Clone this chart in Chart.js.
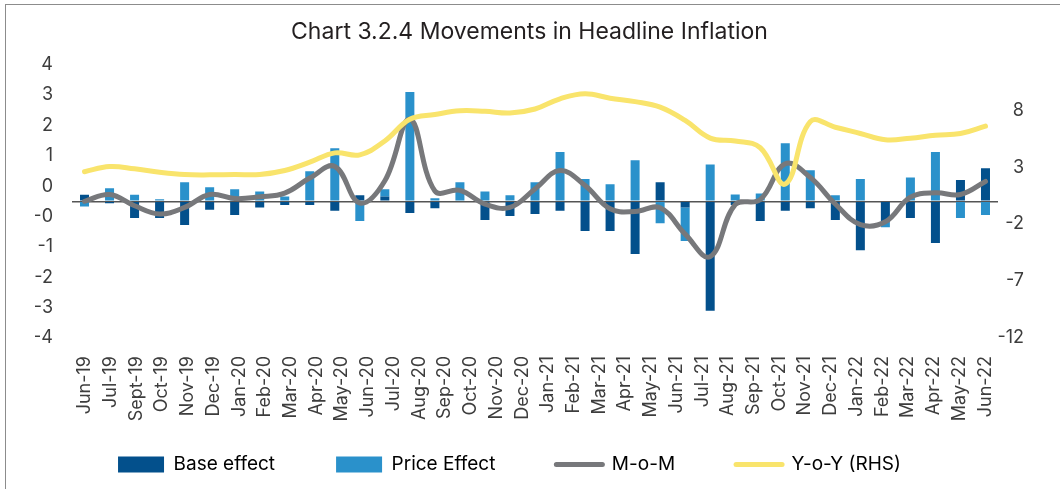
<!DOCTYPE html>
<html>
<head>
<meta charset="utf-8">
<title>Chart 3.2.4 Movements in Headline Inflation</title>
<script src="https://cdn.jsdelivr.net/npm/chart.js@4.4.1/dist/chart.umd.min.js"></script>
<style>
  html, body { margin: 0; padding: 0; background: #fff; }
  #wrap { position: relative; width: 1060px; height: 489px; overflow: hidden; }
  #frame { position: absolute; left: 5px; top: 4px; width: 1200px; height: 700px;
           border-left: 1.5px solid #8c8c8c; border-top: 1.5px solid #8c8c8c; }
  canvas { position: absolute; left: 0; top: 0; }
</style>
</head>
<body>
<div id="wrap">
  <div id="frame"></div>
  <canvas id="inflationChart" width="1060" height="489"></canvas>
</div>
<script>
// monthly data points (37) - the axis below only carries 36 labels
const months = ['Jun-19', 'Jul-19', 'Aug-19', 'Sep-19', 'Oct-19', 'Nov-19', 'Dec-19',
  'Jan-20', 'Feb-20', 'Mar-20', 'Apr-20', 'May-20', 'Jun-20', 'Jul-20', 'Aug-20', 'Sep-20',
  'Oct-20', 'Nov-20', 'Dec-20', 'Jan-21', 'Feb-21', 'Mar-21', 'Apr-21', 'May-21', 'Jun-21',
  'Jul-21', 'Aug-21', 'Sep-21', 'Oct-21', 'Nov-21', 'Dec-21', 'Jan-22', 'Feb-22', 'Mar-22',
  'Apr-22', 'May-22', 'Jun-22'];

// labels printed under the chart
const tickLabels = ['Jun-19', 'Jul-19', 'Sept-19', 'Oct-19', 'Nov-19', 'Dec-19', 'Jan-20',
  'Feb-20', 'Mar-20', 'Apr-20', 'May-20', 'Jun-20', 'Jul-20', 'Aug-20', 'Sep-20', 'Oct-20',
  'Nov-20', 'Dec-20', 'Jan-21', 'Feb-21', 'Mar-21', 'Apr-21', 'May-21', 'Jun-21', 'Jul-21',
  'Aug-21', 'Sep-21', 'Oct-21', 'Nov-21', 'Dec-21', 'Jan-22', 'Feb-22', 'Mar-22', 'Apr-22',
  'May-22', 'Jun-22'];

const baseEffect = [0.19, -0.06, -0.49, -0.49, -0.69, -0.25, -0.40, -0.18, -0.11, -0.11,
  -0.28, 0.18, 0.14, -0.34, -0.20, -0.02, -0.55, -0.43, -0.37, -0.28, -0.87, -0.87, -1.54,
  0.56, -0.18, -3.20, -0.11, -0.58, -0.28, -0.20, -0.55, -1.43, -0.62, -0.49, -1.22, 0.62, 0.97];

const priceEffect = [-0.15, 0.38, 0.19, 0.06, 0.56, 0.41, 0.35, 0.29, 0.14, 0.88,
  1.55, -0.58, 0.21, 3.20, 0.09, 0.56, 0.29, 0.18, 0.56, 1.44, 0.65, 0.50, 1.20,
  -0.64, -0.98, 1.08, 0.20, 0.23, 1.70, 0.91, 0.18, 0.65, -0.14, 0.70, 1.44, -0.49, -0.40];

const momChange = [0.00, 0.20, -0.13, -0.37, -0.18, 0.20, 0.08, 0.13, 0.24, 0.68,
  1.02, -0.05, 0.60, 2.40, 0.30, 0.32, -0.08, -0.18, 0.36, 0.90, 0.46, -0.22, -0.30,
  -0.19, -0.96, -1.62, -0.10, 0.05, 1.10, 0.70, -0.08, -0.68, -0.60, 0.12, 0.25, 0.20, 0.58];

const yoyInflation = [2.60, 3.05, 2.85, 2.55, 2.35, 2.32, 2.35, 2.35, 2.70, 3.43,
  4.25, 4.08, 5.30, 7.20, 7.62, 7.95, 7.90, 7.75, 8.10, 9.00, 9.44, 9.05, 8.75,
  8.27, 7.10, 5.55, 5.30, 4.70, 1.52, 7.00, 6.50, 5.95, 5.40, 5.54, 5.80, 5.95, 6.60];

// left axis ticks (shown rounded to whole numbers), right axis ticks
const leftTicks = [-4, -3.111, -2.222, -1.333, -0.444, 0.444, 1.333, 2.222, 3.111, 4];
const rightTicks = [-12, -7, -2, 3, 8];

const NAVY = '#03508C';
const LIGHT_BLUE = '#2A91CB';
const GREY = '#77787B';
const YELLOW = '#F9E46C';

Chart.defaults.font.family = 'Inter, "Noto Sans", sans-serif';
Chart.defaults.color = '#3d3d3d';

// nudge the legend row a little left of the centre, like the original
const legendShift = {
    id: 'legendShift',
    afterLayout(chart) {
        chart.legend.left -= 20;
        chart.legend.right -= 20;
    }
};

const ctx = document.getElementById('inflationChart').getContext('2d');
const inflationChart = new Chart(ctx, {
    data: {
        labels: months,
        datasets: [
            {
                type: 'bar', label: 'Base effect', data: baseEffect,
                backgroundColor: NAVY, stack: 'effects', order: 2,
                xAxisID: 'x', yAxisID: 'y', barPercentage: 0.36, categoryPercentage: 1
            },
            {
                type: 'bar', label: 'Price Effect', data: priceEffect,
                backgroundColor: LIGHT_BLUE, stack: 'effects', order: 2,
                xAxisID: 'x', yAxisID: 'y', barPercentage: 0.36, categoryPercentage: 1
            },
            {
                type: 'line', label: 'M-o-M', data: momChange,
                borderColor: GREY, borderWidth: 5, tension: 0.4, pointRadius: 0,
                borderCapStyle: 'round', stack: 'mom', order: 1, xAxisID: 'x', yAxisID: 'y'
            },
            {
                type: 'line', label: 'Y-o-Y (RHS)', data: yoyInflation,
                borderColor: YELLOW, borderWidth: 5, tension: 0.4, pointRadius: 0,
                borderCapStyle: 'round', order: 0, xAxisID: 'x', yAxisID: 'y2'
            }
        ]
    },
    options: {
        responsive: false,
        animation: false,
        layout: { padding: { left: 35, right: 36, top: 0, bottom: 5 } },
        plugins: {
            title: {
                display: true,
                text: 'Chart 3.2.4 Movements in Headline Inflation',
                color: '#231f20',
                font: { size: 23, weight: 'normal' },
                padding: { top: 18, bottom: 19 }
            },
            legend: {
                position: 'bottom',
                labels: {
                    usePointStyle: true,
                    pointStyleWidth: 46,
                    boxHeight: 16,
                    padding: 61,
                    color: '#231f20',
                    font: { size: 19 },
                    generateLabels(chart) {
                        return chart.data.datasets.map((ds, i) => {
                            const isBar = ds.type === 'bar';
                            const c = isBar ? ds.backgroundColor : ds.borderColor;
                            return {
                                text: ds.label, datasetIndex: i, hidden: false,
                                fillStyle: c, strokeStyle: c,
                                lineWidth: isBar ? 0 : 5, lineCap: 'round',
                                pointStyle: isBar ? 'rect' : 'line'
                            };
                        });
                    }
                }
            },
            tooltip: { enabled: false }
        },
        scales: {
            x: { type: 'category', display: false, offset: true, stacked: true },
            x2: {
                type: 'category',
                labels: tickLabels,
                position: 'bottom',
                offset: true,
                grid: { display: false, drawTicks: false },
                border: { display: false },
                ticks: { autoSkip: false, minRotation: 90, maxRotation: 90, padding: 18, font: { size: 18 } },
                afterFit(scale) {
                    scale.height = 56;
                    // let the long rotated labels run past the axis box
                    scale._computeLabelArea = () => undefined;
                }
            },
            y: {
                position: 'left',
                min: -4, max: 4,
                stacked: true,
                afterBuildTicks(scale) {
                    scale.ticks = leftTicks.concat([0]).map(v => ({ value: v }));
                },
                ticks: {
                    padding: 19,
                    font: { size: 18 },
                    callback: v => (Math.abs(v) < 1e-9 ? '' : v.toFixed(0))
                },
                grid: {
                    drawTicks: false,
                    lineWidth: 1.4,
                    color: c => (c.tick && Math.abs(c.tick.value) < 1e-9 ? '#555555' : 'rgba(0,0,0,0)')
                },
                border: { display: false },
                afterFit(scale) { scale.width = 37; }
            },
            y2: {
                position: 'right',
                min: -12, max: 12,
                afterBuildTicks(scale) {
                    scale.ticks = rightTicks.map(v => ({ value: v }));
                },
                ticks: { crossAlign: 'far', font: { size: 18 } },
                grid: { display: false, drawTicks: false },
                border: { display: false },
                afterFit(scale) { scale.width = 26; }
            }
        }
    },
    plugins: [legendShift]
});
</script>
</body>
</html>
